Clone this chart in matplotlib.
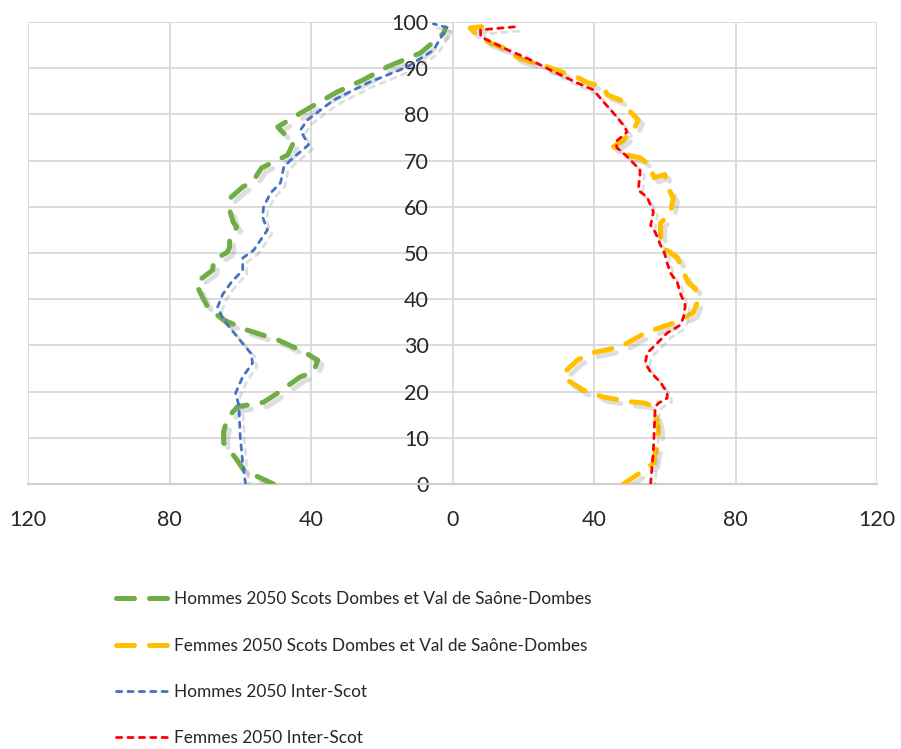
import numpy as np
import matplotlib
matplotlib.use("Agg")
import matplotlib.pyplot as plt
import matplotlib.patheffects as pe
from matplotlib.ticker import FuncFormatter, MultipleLocator

ages_h_scot = [0, 1.5, 3, 5.6, 8.9, 11.3, 14.3, 16.7, 17.7, 19.7, 23.2, 24.2, 26.8, 28.6,
               31.2, 33.3, 35.5, 38, 40.3, 43.5, 46.3, 48.5, 50.2, 51.3, 53.5, 55.6, 56.7,
               59.3, 62, 64.3, 65.4, 68.4, 71.2, 73.8, 76.6, 77.3, 79.9, 82.5, 84.9, 87.4,
               90.3, 93.3, 97.6, 98.7]
hommes_scot = [50.6, 54.8, 59, 61.3, 64.7, 64.7, 63.6, 60.8, 53.4, 49.4, 43, 39.3, 38.1, 42,
               49.4, 58, 64.7, 69, 70.6, 72.6, 67.8, 67.5, 63.6, 63, 63, 61, 62,
               63, 62.7, 59.3, 56.5, 54, 46.6, 45, 48.6, 49.4, 43.8, 38, 32.5, 25.4,
               18.4, 9, 2.5, 2]

ages_f_scot = [0, 2.4, 4.5, 6.7, 9.1, 12.3, 16.7, 17.5, 17.8, 18.8, 20.3, 22.5, 24, 26.8,
               28.3, 29.7, 32.9, 34.8, 37, 39.8, 42.4, 43.5, 46.3, 49.1, 51.1, 53.9, 56.5,
               58.6, 61.9, 64, 67, 66.3, 69, 70.6, 71.2, 73, 74, 76.2, 78.8, 81, 83.1,
               84.2, 86, 86.8, 88, 90.3, 92.2, 94.4, 95.5, 96.8, 98.7, 99]
femmes_scot = [48.3, 53, 56.8, 57.3, 58.2, 58.2, 56.8, 54.5, 50.3, 42.7, 37, 32.5, 31.4, 35.3,
               39, 47.5, 55, 62.4, 68, 69.5, 68.6, 66.7, 65, 63.5, 59.6, 58.8, 58.8,
               61.6, 62.4, 61, 60, 57, 55.8, 53, 49.7, 45.5, 47.5, 51, 52.5, 49.7, 47.5,
               43.8, 42.7, 38.4, 35.3, 26.8, 18.6, 14.4, 10.7, 7.3, 5, 8.4]

ages_h_inter = [0, 4.5, 10.2, 17, 19.7, 23.2, 26.2, 28.3, 31.8, 35.5, 38.3, 41, 43.5, 46.3,
                48.9, 50.6, 55, 57.8, 60, 63, 65.2, 68.6, 70.1, 73.4, 76.6, 78.8, 83.1,
                86.8, 90.3, 93.9, 97.6, 98.8, 99.6]
hommes_inter = [58.5, 59.3, 60, 60.4, 61.3, 59.3, 56.5, 57, 60.8, 64.7, 66.4, 65, 62.7, 59.3,
                59.3, 56.2, 52.3, 53.7, 53.4, 51.4, 48.6, 47.7, 45.8, 40.7, 43, 41, 33.6,
                24, 12.7, 5.4, 2.5, 1.5, 5.4]

ages_f_inter = [0, 7.4, 16.7, 17.5, 18.6, 19.7, 22, 24.2, 26.2, 28.3, 30.5, 32.7, 34.4, 36.1,
                38.7, 41.3, 43.5, 45.7, 47.8, 49.8, 51.7, 54.5, 56, 58.9, 62.1, 63.6, 66.9,
                68, 71.2, 72.7, 74, 76.2, 77.7, 80.3, 82.7, 85.3, 86.8, 89.6, 92.2, 94,
                96.8, 98.3, 99]
femmes_inter = [56, 56.8, 57.3, 58.2, 60.7, 60.7, 58.8, 56, 54.5, 55, 57.9, 60.7, 64.4, 65.3,
                65.8, 64.4, 63.6, 61.6, 60.7, 60, 58.8, 57.3, 56, 56.8, 55, 52.5, 53,
                53, 48.9, 46.6, 46, 49.4, 48.3, 45.5, 42.7, 39.8, 35.3, 27.7, 21, 15.5,
                8, 7.9, 18.4]

labels = ["Hommes 2050 Scots Dombes et Val de Saône-Dombes",
          "Femmes 2050 Scots Dombes et Val de Saône-Dombes",
          "Hommes 2050 Inter-Scot",
          "Femmes 2050 Inter-Scot"]

plt.rcParams['font.family'] = ['Lato', 'DejaVu Sans']

fig = plt.figure(figsize=(9.01, 7.49), dpi=100)
ax = fig.add_axes([28 / 901, 1 - 484 / 749, (877 - 28) / 901, (484 - 22) / 749])

ombre = [pe.SimpleLineShadow(offset=(3, -3), shadow_color='#7f7f7f', alpha=0.25),
         pe.Normal()]

ax.plot(-np.array(hommes_scot), ages_h_scot, color='#70AD47', lw=3.6,
        dashes=(3.6, 3.0), dash_capstyle='round', solid_capstyle='round',
        label=labels[0], path_effects=ombre, zorder=3)
ax.plot(femmes_scot, ages_f_scot, color='#FFC000', lw=3.6,
        dashes=(3.6, 3.0), dash_capstyle='round', solid_capstyle='round',
        label=labels[1], path_effects=ombre, zorder=3)
ax.plot(-np.array(hommes_inter), ages_h_inter, color='#4472C4', lw=2.0,
        dashes=(1.9, 2.2), dash_capstyle='round',
        label=labels[2], path_effects=ombre, zorder=4)
ax.plot(femmes_inter, ages_f_inter, color='#FF0000', lw=2.0,
        dashes=(1.9, 2.2), dash_capstyle='round',
        label=labels[3], path_effects=ombre, zorder=4)

ax.set_xlim(-120, 120)
ax.set_ylim(0, 100)
ax.xaxis.set_major_locator(MultipleLocator(40))
ax.yaxis.set_major_locator(MultipleLocator(10))
ax.xaxis.set_major_formatter(FuncFormatter(lambda v, p: f"{abs(v):.0f}"))

ax.grid(True, color='#d9d9d9', lw=1.3, zorder=0)
ax.set_axisbelow(True)
for s in ['top', 'right']:
    ax.spines[s].set_visible(False)
ax.spines['left'].set_position(('data', 0))
ax.spines['left'].set_visible(False)
ax.spines['bottom'].set_color('#d0d0d0')
ax.spines['bottom'].set_linewidth(1.6)

ax.tick_params(axis='both', length=0, labelsize=15.5, colors='#262626')
ax.tick_params(axis='y', pad=17)
ax.tick_params(axis='x', pad=19)

leg = fig.legend(loc='upper left', bbox_to_anchor=(100 / 901, 1 - 576 / 749),
                 frameon=False, fontsize=12.4, handlelength=3.0, handletextpad=0.4,
                 labelspacing=1.75, labelcolor='#262626')
for line in leg.get_lines():
    line.set_path_effects([])

fig.savefig("out.png", dpi=100)
